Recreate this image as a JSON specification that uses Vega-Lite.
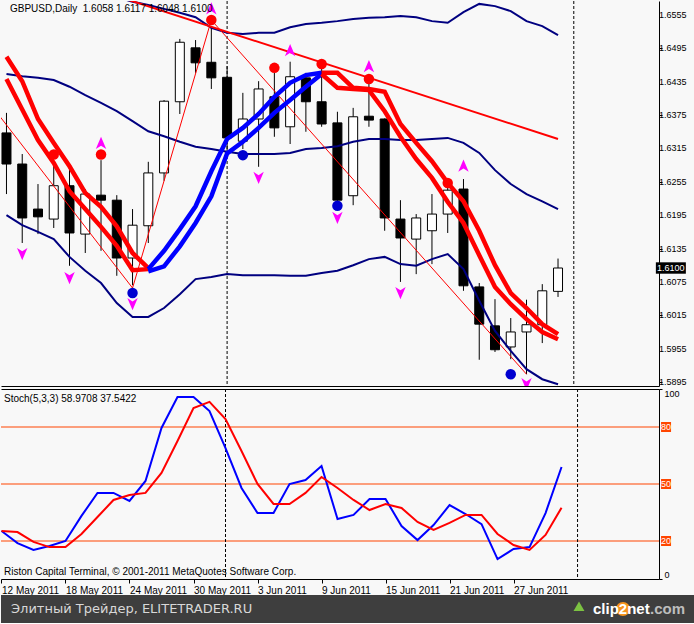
{
  "$schema": "https://vega.github.io/schema/vega-lite/v6.json",
  "padding": 0,
  "background": "#f8f8f8",
  "config": {
    "view": {"stroke": null},
    "font": "Liberation Sans",
    "axis": {"grid": false, "domainColor": "black", "tickColor": "black", "labelColor": "black", "labelFont": "Liberation Sans", "labelFontSize": 10, "title": null, "labelOverlap": false, "labelBound": false, "labelFlush": false},
    "axisY": {"labelOverlap": false},
    "axisQuantitative": {"labelOverlap": false}
  },
  "datasets": {
    "candles": [
      {"i": 0, "date": "12 May 2011", "o": 1.6343, "h": 1.6379, "l": 1.6233, "c": 1.6287},
      {"i": 1, "date": "13 May 2011", "o": 1.6287, "h": 1.6305, "l": 1.6145, "c": 1.6190},
      {"i": 2, "date": "16 May 2011", "o": 1.6206, "h": 1.6251, "l": 1.6161, "c": 1.6192},
      {"i": 3, "date": "17 May 2011", "o": 1.6188, "h": 1.6292, "l": 1.6172, "c": 1.6248},
      {"i": 4, "date": "18 May 2011", "o": 1.6248, "h": 1.6285, "l": 1.6104, "c": 1.6163},
      {"i": 5, "date": "19 May 2011", "o": 1.6161, "h": 1.6242, "l": 1.6127, "c": 1.6233},
      {"i": 6, "date": "20 May 2011", "o": 1.6231, "h": 1.6294, "l": 1.6131, "c": 1.6222},
      {"i": 7, "date": "23 May 2011", "o": 1.6222, "h": 1.6231, "l": 1.6086, "c": 1.6118},
      {"i": 8, "date": "24 May 2011", "o": 1.6118, "h": 1.6206, "l": 1.6069, "c": 1.6177},
      {"i": 9, "date": "25 May 2011", "o": 1.6176, "h": 1.6291, "l": 1.6145, "c": 1.6271},
      {"i": 10, "date": "26 May 2011", "o": 1.6271, "h": 1.6402, "l": 1.6257, "c": 1.6400},
      {"i": 11, "date": "27 May 2011", "o": 1.6399, "h": 1.6512, "l": 1.6377, "c": 1.6506},
      {"i": 12, "date": "30 May 2011", "o": 1.6496, "h": 1.6510, "l": 1.6451, "c": 1.6469},
      {"i": 13, "date": "31 May 2011", "o": 1.6470, "h": 1.6535, "l": 1.6422, "c": 1.6442},
      {"i": 14, "date": "1 Jun 2011", "o": 1.6443, "h": 1.6463, "l": 1.6310, "c": 1.6334},
      {"i": 15, "date": "2 Jun 2011", "o": 1.6328, "h": 1.6415, "l": 1.6314, "c": 1.6368},
      {"i": 16, "date": "3 Jun 2011", "o": 1.6368, "h": 1.6436, "l": 1.6282, "c": 1.6422},
      {"i": 17, "date": "6 Jun 2011", "o": 1.6408, "h": 1.6451, "l": 1.6336, "c": 1.6352},
      {"i": 18, "date": "7 Jun 2011", "o": 1.6354, "h": 1.6471, "l": 1.6323, "c": 1.6444},
      {"i": 19, "date": "8 Jun 2011", "o": 1.6442, "h": 1.6451, "l": 1.6345, "c": 1.6399},
      {"i": 20, "date": "9 Jun 2011", "o": 1.6399, "h": 1.6460, "l": 1.6354, "c": 1.6359},
      {"i": 21, "date": "10 Jun 2011", "o": 1.6361, "h": 1.6381, "l": 1.6220, "c": 1.6222},
      {"i": 22, "date": "13 Jun 2011", "o": 1.6230, "h": 1.6388, "l": 1.6213, "c": 1.6372},
      {"i": 23, "date": "14 Jun 2011", "o": 1.6373, "h": 1.6431, "l": 1.6354, "c": 1.6366},
      {"i": 24, "date": "15 Jun 2011", "o": 1.6368, "h": 1.6369, "l": 1.6167, "c": 1.6190},
      {"i": 25, "date": "16 Jun 2011", "o": 1.6188, "h": 1.6222, "l": 1.6075, "c": 1.6154},
      {"i": 26, "date": "17 Jun 2011", "o": 1.6152, "h": 1.6197, "l": 1.6089, "c": 1.6190},
      {"i": 27, "date": "20 Jun 2011", "o": 1.6167, "h": 1.6233, "l": 1.6107, "c": 1.6197},
      {"i": 28, "date": "21 Jun 2011", "o": 1.6197, "h": 1.6246, "l": 1.6163, "c": 1.6240},
      {"i": 29, "date": "22 Jun 2011", "o": 1.6242, "h": 1.6260, "l": 1.6059, "c": 1.6068},
      {"i": 30, "date": "23 Jun 2011", "o": 1.6066, "h": 1.6073, "l": 1.5935, "c": 1.5999},
      {"i": 31, "date": "24 Jun 2011", "o": 1.5996, "h": 1.6044, "l": 1.5949, "c": 1.5953},
      {"i": 32, "date": "27 Jun 2011", "o": 1.5958, "h": 1.6010, "l": 1.5936, "c": 1.5985},
      {"i": 33, "date": "28 Jun 2011", "o": 1.5985, "h": 1.6043, "l": 1.5909, "c": 1.5998},
      {"i": 34, "date": "29 Jun 2011", "o": 1.5998, "h": 1.6071, "l": 1.5965, "c": 1.6059},
      {"i": 35, "date": "30 Jun 2011", "o": 1.6058, "h": 1.6117, "l": 1.6048, "c": 1.6100}
    ],
    "bands": [
      {"i": 6, "band": "upper", "v": 1.6596}, {"i": 7, "band": "upper", "v": 1.6587}, {"i": 8, "band": "upper", "v": 1.6579},
      {"i": 9, "band": "upper", "v": 1.6573}, {"i": 10, "band": "upper", "v": 1.6566}, {"i": 11, "band": "upper", "v": 1.6559},
      {"i": 12, "band": "upper", "v": 1.6551}, {"i": 13, "band": "upper", "v": 1.6532}, {"i": 14, "band": "upper", "v": 1.6523},
      {"i": 15, "band": "upper", "v": 1.6521}, {"i": 16, "band": "upper", "v": 1.6523}, {"i": 17, "band": "upper", "v": 1.6523},
      {"i": 18, "band": "upper", "v": 1.6533}, {"i": 19, "band": "upper", "v": 1.6539}, {"i": 20, "band": "upper", "v": 1.6541},
      {"i": 21, "band": "upper", "v": 1.6544}, {"i": 22, "band": "upper", "v": 1.6548}, {"i": 23, "band": "upper", "v": 1.6550},
      {"i": 24, "band": "upper", "v": 1.6551}, {"i": 25, "band": "upper", "v": 1.6553}, {"i": 26, "band": "upper", "v": 1.6551},
      {"i": 27, "band": "upper", "v": 1.6544}, {"i": 28, "band": "upper", "v": 1.6541}, {"i": 29, "band": "upper", "v": 1.6560},
      {"i": 30, "band": "upper", "v": 1.6575}, {"i": 31, "band": "upper", "v": 1.6571}, {"i": 32, "band": "upper", "v": 1.6562},
      {"i": 33, "band": "upper", "v": 1.6544}, {"i": 34, "band": "upper", "v": 1.6535}, {"i": 35, "band": "upper", "v": 1.6519},
      {"i": 0, "band": "middle", "v": 1.6449}, {"i": 1, "band": "middle", "v": 1.6445}, {"i": 2, "band": "middle", "v": 1.6442},
      {"i": 3, "band": "middle", "v": 1.6438}, {"i": 4, "band": "middle", "v": 1.6426}, {"i": 5, "band": "middle", "v": 1.6411},
      {"i": 6, "band": "middle", "v": 1.6397}, {"i": 7, "band": "middle", "v": 1.6382}, {"i": 8, "band": "middle", "v": 1.6364},
      {"i": 9, "band": "middle", "v": 1.6346}, {"i": 10, "band": "middle", "v": 1.6337}, {"i": 11, "band": "middle", "v": 1.6327},
      {"i": 12, "band": "middle", "v": 1.6318}, {"i": 13, "band": "middle", "v": 1.6314}, {"i": 14, "band": "middle", "v": 1.6309},
      {"i": 15, "band": "middle", "v": 1.6305}, {"i": 16, "band": "middle", "v": 1.6305}, {"i": 17, "band": "middle", "v": 1.6305},
      {"i": 18, "band": "middle", "v": 1.6307}, {"i": 19, "band": "middle", "v": 1.6314}, {"i": 20, "band": "middle", "v": 1.6316},
      {"i": 21, "band": "middle", "v": 1.6319}, {"i": 22, "band": "middle", "v": 1.6327}, {"i": 23, "band": "middle", "v": 1.6332},
      {"i": 24, "band": "middle", "v": 1.6332}, {"i": 25, "band": "middle", "v": 1.6330}, {"i": 26, "band": "middle", "v": 1.6330},
      {"i": 27, "band": "middle", "v": 1.6332}, {"i": 28, "band": "middle", "v": 1.6334}, {"i": 29, "band": "middle", "v": 1.6325},
      {"i": 30, "band": "middle", "v": 1.6307}, {"i": 31, "band": "middle", "v": 1.6276}, {"i": 32, "band": "middle", "v": 1.6251},
      {"i": 33, "band": "middle", "v": 1.6233}, {"i": 34, "band": "middle", "v": 1.6220}, {"i": 35, "band": "middle", "v": 1.6206},
      {"i": 0, "band": "lower", "v": 1.6195}, {"i": 1, "band": "lower", "v": 1.6177}, {"i": 2, "band": "lower", "v": 1.6165},
      {"i": 3, "band": "lower", "v": 1.6152}, {"i": 4, "band": "lower", "v": 1.6120}, {"i": 5, "band": "lower", "v": 1.6095},
      {"i": 6, "band": "lower", "v": 1.6073}, {"i": 7, "band": "lower", "v": 1.6037}, {"i": 8, "band": "lower", "v": 1.6012},
      {"i": 9, "band": "lower", "v": 1.6012}, {"i": 10, "band": "lower", "v": 1.6028}, {"i": 11, "band": "lower", "v": 1.6053},
      {"i": 12, "band": "lower", "v": 1.6080}, {"i": 13, "band": "lower", "v": 1.6084}, {"i": 14, "band": "lower", "v": 1.6089},
      {"i": 15, "band": "lower", "v": 1.6087}, {"i": 16, "band": "lower", "v": 1.6087}, {"i": 17, "band": "lower", "v": 1.6087},
      {"i": 18, "band": "lower", "v": 1.6086}, {"i": 19, "band": "lower", "v": 1.6086}, {"i": 20, "band": "lower", "v": 1.6091},
      {"i": 21, "band": "lower", "v": 1.6095}, {"i": 22, "band": "lower", "v": 1.6105}, {"i": 23, "band": "lower", "v": 1.6116},
      {"i": 24, "band": "lower", "v": 1.6120}, {"i": 25, "band": "lower", "v": 1.6107}, {"i": 26, "band": "lower", "v": 1.6104},
      {"i": 27, "band": "lower", "v": 1.6116}, {"i": 28, "band": "lower", "v": 1.6125}, {"i": 29, "band": "lower", "v": 1.6098},
      {"i": 30, "band": "lower", "v": 1.6041}, {"i": 31, "band": "lower", "v": 1.5987}, {"i": 32, "band": "lower", "v": 1.5951},
      {"i": 33, "band": "lower", "v": 1.5918}, {"i": 34, "band": "lower", "v": 1.5900}, {"i": 35, "band": "lower", "v": 1.5891}
    ],
    "env": [
      {"i": 0, "s": "ru1", "v": 1.6480}, {"i": 1, "s": "ru1", "v": 1.6436}, {"i": 2, "s": "ru1", "v": 1.6368}, {"i": 3, "s": "ru1", "v": 1.6325},
      {"i": 4, "s": "ru1", "v": 1.6283}, {"i": 5, "s": "ru1", "v": 1.6235}, {"i": 6, "s": "ru1", "v": 1.6210}, {"i": 7, "s": "ru1", "v": 1.6175},
      {"i": 8, "s": "ru1", "v": 1.6127}, {"i": 9, "s": "ru1", "v": 1.6100},
      {"i": 0, "s": "rl1", "v": 1.6440}, {"i": 1, "s": "rl1", "v": 1.6385}, {"i": 2, "s": "rl1", "v": 1.6330}, {"i": 3, "s": "rl1", "v": 1.6289},
      {"i": 4, "s": "rl1", "v": 1.6238}, {"i": 5, "s": "rl1", "v": 1.6206}, {"i": 6, "s": "rl1", "v": 1.6174}, {"i": 7, "s": "rl1", "v": 1.6140},
      {"i": 8, "s": "rl1", "v": 1.6096}, {"i": 9, "s": "rl1", "v": 1.6098},
      {"i": 9, "s": "bu", "v": 1.6098}, {"i": 10, "s": "bu", "v": 1.6131}, {"i": 11, "s": "bu", "v": 1.6170}, {"i": 12, "s": "bu", "v": 1.6211},
      {"i": 13, "s": "bu", "v": 1.6274}, {"i": 14, "s": "bu", "v": 1.6332}, {"i": 15, "s": "bu", "v": 1.6352}, {"i": 16, "s": "bu", "v": 1.6377},
      {"i": 17, "s": "bu", "v": 1.6408}, {"i": 18, "s": "bu", "v": 1.6433}, {"i": 19, "s": "bu", "v": 1.6447}, {"i": 20, "s": "bu", "v": 1.6451},
      {"i": 9, "s": "bl", "v": 1.6094}, {"i": 10, "s": "bl", "v": 1.6103}, {"i": 11, "s": "bl", "v": 1.6139}, {"i": 12, "s": "bl", "v": 1.6181},
      {"i": 13, "s": "bl", "v": 1.6229}, {"i": 14, "s": "bl", "v": 1.6306}, {"i": 15, "s": "bl", "v": 1.6327}, {"i": 16, "s": "bl", "v": 1.6352},
      {"i": 17, "s": "bl", "v": 1.6379}, {"i": 18, "s": "bl", "v": 1.6402}, {"i": 19, "s": "bl", "v": 1.6426}, {"i": 20, "s": "bl", "v": 1.6449},
      {"i": 20, "s": "ru2", "v": 1.6451}, {"i": 21, "s": "ru2", "v": 1.6451}, {"i": 22, "s": "ru2", "v": 1.6424}, {"i": 23, "s": "ru2", "v": 1.6422},
      {"i": 24, "s": "ru2", "v": 1.6417}, {"i": 25, "s": "ru2", "v": 1.6359}, {"i": 26, "s": "ru2", "v": 1.6325}, {"i": 27, "s": "ru2", "v": 1.6292},
      {"i": 28, "s": "ru2", "v": 1.6253}, {"i": 29, "s": "ru2", "v": 1.6220}, {"i": 30, "s": "ru2", "v": 1.6167}, {"i": 31, "s": "ru2", "v": 1.6105},
      {"i": 32, "s": "ru2", "v": 1.6055}, {"i": 33, "s": "ru2", "v": 1.6028}, {"i": 34, "s": "ru2", "v": 1.5999}, {"i": 35, "s": "ru2", "v": 1.5981},
      {"i": 20, "s": "rl2", "v": 1.6449}, {"i": 21, "s": "rl2", "v": 1.6424}, {"i": 22, "s": "rl2", "v": 1.6422}, {"i": 23, "s": "rl2", "v": 1.6420},
      {"i": 24, "s": "rl2", "v": 1.6382}, {"i": 25, "s": "rl2", "v": 1.6336}, {"i": 26, "s": "rl2", "v": 1.6296}, {"i": 27, "s": "rl2", "v": 1.6262},
      {"i": 28, "s": "rl2", "v": 1.6219}, {"i": 29, "s": "rl2", "v": 1.6181}, {"i": 30, "s": "rl2", "v": 1.6123}, {"i": 31, "s": "rl2", "v": 1.6066},
      {"i": 32, "s": "rl2", "v": 1.6035}, {"i": 33, "s": "rl2", "v": 1.6008}, {"i": 34, "s": "rl2", "v": 1.5985}, {"i": 35, "s": "rl2", "v": 1.5972}
    ],
    "tline": [{"i": 7, "v": 1.6589}, {"i": 35, "v": 1.6332}],
    "zigzag": [{"i": -1, "v": 1.6394}, {"i": 8, "v": 1.6064}, {"i": 13, "v": 1.6546}, {"i": 33, "v": 1.5909}],
    "marks": [
      {"i": 3, "kind": "hi", "v": 1.6304}, {"i": 6, "kind": "hi", "v": 1.6304}, {"i": 13, "kind": "hi", "v": 1.6546},
      {"i": 17, "kind": "hi", "v": 1.6460}, {"i": 20, "kind": "hi", "v": 1.6467}, {"i": 23, "kind": "hi", "v": 1.6440},
      {"i": 28, "kind": "hi", "v": 1.6253},
      {"i": 8, "kind": "lo", "v": 1.6055}, {"i": 15, "kind": "lo", "v": 1.6303}, {"i": 21, "kind": "lo", "v": 1.6212},
      {"i": 32, "kind": "lo", "v": 1.5909},
      {"i": 13, "kind": "up", "v": 1.6567}, {"i": 6, "kind": "up", "v": 1.6325}, {"i": 18, "kind": "up", "v": 1.6492},
      {"i": 23, "kind": "up", "v": 1.6463}, {"i": 29, "kind": "up", "v": 1.6284},
      {"i": 1, "kind": "dn", "v": 1.6125}, {"i": 4, "kind": "dn", "v": 1.6082}, {"i": 8, "kind": "dn", "v": 1.6035},
      {"i": 16, "kind": "dn", "v": 1.6262}, {"i": 21, "kind": "dn", "v": 1.6190}, {"i": 25, "kind": "dn", "v": 1.6055},
      {"i": 33, "kind": "dn", "v": 1.5891}
    ],
    "seps": [{"i": 14, "date": "1 Jun 2011"}, {"i": 36, "date": "1 Jul 2011"}],
    "stoch": [
      {"i": 0, "k": 25.3, "d": 25.3}, {"i": 1, "k": 18.9, "d": 24.7}, {"i": 2, "k": 15.3, "d": 19.5}, {"i": 3, "k": 17.4, "d": 16.8},
      {"i": 4, "k": 20.0, "d": 16.8}, {"i": 5, "k": 33.2, "d": 23.7}, {"i": 6, "k": 45.3, "d": 32.6}, {"i": 7, "k": 45.3, "d": 41.6},
      {"i": 8, "k": 41.1, "d": 44.2}, {"i": 9, "k": 51.6, "d": 45.3}, {"i": 10, "k": 79.5, "d": 55.8}, {"i": 11, "k": 95.8, "d": 72.6},
      {"i": 12, "k": 95.8, "d": 90.0}, {"i": 13, "k": 88.4, "d": 93.2}, {"i": 14, "k": 68.9, "d": 84.2}, {"i": 15, "k": 47.9, "d": 67.4},
      {"i": 16, "k": 34.7, "d": 50.0}, {"i": 17, "k": 34.7, "d": 39.5}, {"i": 18, "k": 50.0, "d": 39.5}, {"i": 19, "k": 52.1, "d": 45.3},
      {"i": 20, "k": 59.5, "d": 53.7}, {"i": 21, "k": 31.6, "d": 47.9}, {"i": 22, "k": 33.7, "d": 41.6}, {"i": 23, "k": 42.1, "d": 36.3},
      {"i": 24, "k": 42.1, "d": 39.5}, {"i": 25, "k": 27.9, "d": 37.4}, {"i": 26, "k": 20.5, "d": 30.0}, {"i": 27, "k": 28.4, "d": 25.8},
      {"i": 28, "k": 38.9, "d": 29.5}, {"i": 29, "k": 34.2, "d": 33.7}, {"i": 30, "k": 28.9, "d": 33.7}, {"i": 31, "k": 10.5, "d": 23.7},
      {"i": 32, "k": 15.8, "d": 17.9}, {"i": 33, "k": 16.8, "d": 15.3}, {"i": 34, "k": 34.7, "d": 23.2}, {"i": 35, "k": 58.97, "d": 37.54}
    ],
    "levels": [{"level": 80}, {"level": 50}, {"level": 20}],
    "pricelabels": [
      {"p": 1.5895}, {"p": 1.5955}, {"p": 1.6015}, {"p": 1.6075}, {"p": 1.6135}, {"p": 1.6195},
      {"p": 1.6255}, {"p": 1.6315}, {"p": 1.6375}, {"p": 1.6435}, {"p": 1.6495}, {"p": 1.6555}
    ]
  },
  "resolve": {"scale": {"x": "independent", "y": "independent"}},
  "spacing": 0,
  "vconcat": [
    {
      "resolve": {"scale": {"x": "independent", "y": "independent"}},
      "spacing": 1,
      "vconcat": [
        {
          "width": 658,
          "height": 385,
          "layer": [
            {
              "mark": {"type": "rule", "color": "#c0c0c0", "strokeWidth": 1},
              "encoding": {
                "y": {"datum": 1.61, "type": "quantitative",
                      "scale": {"domain": [1.58878, 1.65802], "nice": false, "zero": false},
                      "axis": {"orient": "right", "values": [1.5895, 1.5955, 1.6015, 1.6075, 1.6135, 1.6195, 1.6255, 1.6315, 1.6375, 1.6435, 1.6495, 1.6555],
                               "labels": false, "tickSize": 3, "title": null}}
              }
            },
            {
              "data": {"name": "pricelabels"},
              "mark": {"type": "text", "align": "left", "baseline": "middle", "fontSize": 9, "color": "black", "dx": 5},
              "encoding": {
                "text": {"field": "p", "format": ".4f"},
                "x": {"datum": 41.09, "type": "quantitative", "scale": {"domain": [-0.03, 41.09], "nice": false, "zero": false}},
                "y": {"field": "p", "type": "quantitative", "scale": {"domain": [1.58878, 1.65802], "nice": false, "zero": false}}
              }
            },
            {
              "data": {"name": "seps"},
              "mark": {"type": "rule", "color": "black", "strokeDash": [3, 2], "strokeWidth": 1},
              "encoding": {
                "x": {"field": "i", "type": "quantitative", "scale": {"domain": [-0.03, 41.09], "nice": false, "zero": false},
                      "axis": {"orient": "bottom", "labels": false, "ticks": false, "domain": true, "title": null}}
              }
            },
            {
              "data": {"name": "candles"},
              "mark": {"type": "rule", "color": "black", "strokeWidth": 1},
              "encoding": {
                "x": {"field": "i", "type": "quantitative", "scale": {"domain": [-0.03, 41.09], "nice": false, "zero": false}},
                "y": {"field": "l", "type": "quantitative", "scale": {"domain": [1.58878, 1.65802], "nice": false, "zero": false}},
                "y2": {"field": "h"}
              }
            },
            {
              "data": {"name": "candles"},
              "mark": {"type": "bar", "width": 9, "stroke": "black", "strokeWidth": 1},
              "encoding": {
                "x": {"field": "i", "type": "quantitative", "scale": {"domain": [-0.03, 41.09], "nice": false, "zero": false}},
                "y": {"field": "o", "type": "quantitative", "scale": {"domain": [1.58878, 1.65802], "nice": false, "zero": false}},
                "y2": {"field": "c"},
                "color": {"condition": {"test": "datum.c >= datum.o", "value": "white"}, "value": "black"}
              }
            },
            {
              "data": {"name": "bands"},
              "mark": {"type": "line", "color": "#000080", "strokeWidth": 2, "clip": true},
              "encoding": {
                "x": {"field": "i", "type": "quantitative", "scale": {"domain": [-0.03, 41.09], "nice": false, "zero": false}},
                "y": {"field": "v", "type": "quantitative", "scale": {"domain": [1.58878, 1.65802], "nice": false, "zero": false}},
                "detail": {"field": "band"}
              }
            },
            {
              "data": {"name": "tline"},
              "mark": {"type": "line", "color": "#ff0000", "strokeWidth": 2, "clip": true},
              "encoding": {
                "x": {"field": "i", "type": "quantitative", "scale": {"domain": [-0.03, 41.09], "nice": false, "zero": false}},
                "y": {"field": "v", "type": "quantitative", "scale": {"domain": [1.58878, 1.65802], "nice": false, "zero": false}}
              }
            },
            {
              "data": {"name": "zigzag"},
              "mark": {"type": "line", "color": "#ff0000", "strokeWidth": 1, "clip": true},
              "encoding": {
                "x": {"field": "i", "type": "quantitative", "scale": {"domain": [-0.03, 41.09], "nice": false, "zero": false}},
                "y": {"field": "v", "type": "quantitative", "scale": {"domain": [1.58878, 1.65802], "nice": false, "zero": false}}
              }
            },
            {
              "data": {"name": "env"},
              "mark": {"type": "line", "strokeWidth": 4.5, "clip": true},
              "encoding": {
                "x": {"field": "i", "type": "quantitative", "scale": {"domain": [-0.03, 41.09], "nice": false, "zero": false}},
                "y": {"field": "v", "type": "quantitative", "scale": {"domain": [1.58878, 1.65802], "nice": false, "zero": false}},
                "color": {"field": "s", "type": "nominal", "legend": null,
                          "scale": {"domain": ["ru1", "rl1", "bu", "bl", "ru2", "rl2"], "range": ["#ff0000", "#ff0000", "#0000ff", "#0000ff", "#ff0000", "#ff0000"]}}
              }
            },
            {
              "data": {"name": "marks"},
              "transform": [{"filter": "datum.kind == 'hi'"}],
              "mark": {"type": "point", "filled": true, "opacity": 1, "size": 110, "color": "#ff0000", "clip": true},
              "encoding": {
                "x": {"field": "i", "type": "quantitative", "scale": {"domain": [-0.03, 41.09], "nice": false, "zero": false}},
                "y": {"field": "v", "type": "quantitative", "scale": {"domain": [1.58878, 1.65802], "nice": false, "zero": false}}
              }
            },
            {
              "data": {"name": "marks"},
              "transform": [{"filter": "datum.kind == 'lo'"}],
              "mark": {"type": "point", "filled": true, "opacity": 1, "size": 110, "color": "#0000d0", "clip": true},
              "encoding": {
                "x": {"field": "i", "type": "quantitative", "scale": {"domain": [-0.03, 41.09], "nice": false, "zero": false}},
                "y": {"field": "v", "type": "quantitative", "scale": {"domain": [1.58878, 1.65802], "nice": false, "zero": false}}
              }
            },
            {
              "data": {"name": "marks"},
              "transform": [{"filter": "datum.kind == 'up'"}],
              "mark": {"type": "point", "filled": true, "opacity": 1, "size": 150, "color": "#ff00ff", "shape": "M0,-1L0.85,1L0,0.45L-0.85,1Z", "clip": true},
              "encoding": {
                "x": {"field": "i", "type": "quantitative", "scale": {"domain": [-0.03, 41.09], "nice": false, "zero": false}},
                "y": {"field": "v", "type": "quantitative", "scale": {"domain": [1.58878, 1.65802], "nice": false, "zero": false}}
              }
            },
            {
              "data": {"name": "marks"},
              "transform": [{"filter": "datum.kind == 'dn'"}],
              "mark": {"type": "point", "filled": true, "opacity": 1, "size": 150, "color": "#ff00ff", "shape": "M0,1L0.85,-1L0,-0.45L-0.85,-1Z", "clip": true},
              "encoding": {
                "x": {"field": "i", "type": "quantitative", "scale": {"domain": [-0.03, 41.09], "nice": false, "zero": false}},
                "y": {"field": "v", "type": "quantitative", "scale": {"domain": [1.58878, 1.65802], "nice": false, "zero": false}}
              }
            },
            {
              "data": {"values": [{"label": "GBPUSD,Daily\u00a0\u00a01.6058 1.6117 1.6048 1.6100"}]},
              "mark": {"type": "text", "align": "left", "baseline": "middle", "fontSize": 10, "color": "black"},
              "encoding": {
                "text": {"field": "label"},
                "x": {"datum": 0.22, "type": "quantitative", "scale": {"domain": [-0.03, 41.09], "nice": false, "zero": false}},
                "y": {"datum": 1.6566, "type": "quantitative", "scale": {"domain": [1.58878, 1.65802], "nice": false, "zero": false}}
              }
            },
            {
              "data": {"values": [{"label": "1.6100"}]},
              "mark": {"type": "point", "filled": true, "opacity": 1, "size": 900, "color": "black", "shape": "M-1,-0.38L1,-0.38L1,0.38L-1,0.38Z"},
              "encoding": {
                "x": {"datum": 42.16, "type": "quantitative", "scale": {"domain": [-0.03, 41.09], "nice": false, "zero": false}},
                "y": {"datum": 1.61, "type": "quantitative", "scale": {"domain": [1.58878, 1.65802], "nice": false, "zero": false}}
              }
            },
            {
              "data": {"values": [{"label": "1.6100"}]},
              "mark": {"type": "text", "align": "center", "baseline": "middle", "fontSize": 9, "color": "white"},
              "encoding": {
                "text": {"field": "label"},
                "x": {"datum": 42.16, "type": "quantitative", "scale": {"domain": [-0.03, 41.09], "nice": false, "zero": false}},
                "y": {"datum": 1.61, "type": "quantitative", "scale": {"domain": [1.58878, 1.65802], "nice": false, "zero": false}}
              }
            }
          ]
        },
        {
          "width": 658,
          "height": 190,
          "resolve": {"axis": {"x": "independent"}},
          "layer": [
            {
              "data": {"name": "levels"},
              "mark": {"type": "rule", "color": "#ff4500", "strokeWidth": 1},
              "encoding": {
                "y": {"field": "level", "type": "quantitative", "scale": {"domain": [0, 100], "nice": false, "zero": false},
                      "axis": {"orient": "right", "values": [0, 100], "tickSize": 3, "labelPadding": 2, "title": null, "labelFontSize": 9, "labelOverlap": false,
                               "labelBaseline": {"condition": {"test": "datum.value == 100", "value": "top"}, "value": "bottom"}}}
              }
            },
            {
              "data": {"name": "seps"},
              "mark": {"type": "rule", "color": "black", "strokeDash": [3, 2], "strokeWidth": 1},
              "encoding": {
                "x": {"field": "i", "type": "quantitative", "scale": {"domain": [-0.03, 41.09], "nice": false, "zero": false},
                      "axis": {"orient": "top", "labels": false, "ticks": false, "domain": true, "title": null}}
              }
            },
            {
              "data": {"name": "stoch"},
              "mark": {"type": "line", "color": "#0000ff", "strokeWidth": 2, "clip": true},
              "encoding": {
                "x": {"field": "i", "type": "quantitative", "scale": {"domain": [-0.03, 41.09], "nice": false, "zero": false},
                      "axis": {"orient": "bottom", "values": [0, 4, 8, 12, 16, 20, 24, 28, 32],
                               "labelExpr": "['12 May 2011','18 May 2011','24 May 2011','30 May 2011','3 Jun 2011','9 Jun 2011','15 Jun 2011','21 Jun 2011','27 Jun 2011'][round(datum.value/4)]",
                               "labelAlign": "left", "labelBaseline": "top", "labelPadding": 2, "tickSize": 4, "labelFontSize": 10, "labelOverlap": false, "labelBound": false, "labelFlush": false, "title": null}},
                "y": {"field": "k", "type": "quantitative", "scale": {"domain": [0, 100], "nice": false, "zero": false}}
              }
            },
            {
              "data": {"name": "stoch"},
              "mark": {"type": "line", "color": "#ff0000", "strokeWidth": 2, "clip": true},
              "encoding": {
                "x": {"field": "i", "type": "quantitative", "scale": {"domain": [-0.03, 41.09], "nice": false, "zero": false}, "axis": null},
                "y": {"field": "d", "type": "quantitative", "scale": {"domain": [0, 100], "nice": false, "zero": false}}
              }
            },
            {
              "data": {"name": "levels"},
              "mark": {"type": "point", "filled": true, "opacity": 1, "size": 100, "shape": "square", "color": "#ff4500"},
              "encoding": {
                "x": {"datum": 41.53, "type": "quantitative", "scale": {"domain": [-0.03, 41.09], "nice": false, "zero": false}, "axis": null},
                "y": {"field": "level", "type": "quantitative", "scale": {"domain": [0, 100], "nice": false, "zero": false}}
              }
            },
            {
              "data": {"name": "levels"},
              "mark": {"type": "text", "align": "center", "baseline": "middle", "fontSize": 9, "color": "white"},
              "encoding": {
                "text": {"field": "level"},
                "x": {"datum": 41.53, "type": "quantitative", "scale": {"domain": [-0.03, 41.09], "nice": false, "zero": false}, "axis": null},
                "y": {"field": "level", "type": "quantitative", "scale": {"domain": [0, 100], "nice": false, "zero": false}}
              }
            },
            {
              "data": {"values": [{"label": "Stoch(5,3,3) 58.9708 37.5422", "v": 94.7}, {"label": "Riston Capital Terminal, © 2001-2011 MetaQuotes Software Corp.", "v": 3.7}]},
              "mark": {"type": "text", "align": "left", "baseline": "middle", "fontSize": 10, "color": "black"},
              "encoding": {
                "text": {"field": "label"},
                "x": {"datum": 0.16, "type": "quantitative", "scale": {"domain": [-0.03, 41.09], "nice": false, "zero": false}, "axis": null},
                "y": {"field": "v", "type": "quantitative", "scale": {"domain": [0, 100], "nice": false, "zero": false}}
              }
            }
          ]
        }
      ]
    },
    {
      "width": 694,
      "height": 28,
      "view": {"fill": "#3e3e3e", "stroke": null},
      "data": {"values": [
        {"t": "Элитный Трейдер, ELITETRADER.RU", "part": "site"},
        {"t": "clip2net", "part": "logo"},
        {"t": ".com", "part": "com"}
      ]},
      "layer": [
        {
          "transform": [{"filter": "datum.part == 'site'"}],
          "mark": {"type": "text", "align": "left", "baseline": "middle", "fontSize": 13, "color": "#d8d8d8", "font": "DejaVu Sans"},
          "encoding": {
            "text": {"field": "t"},
            "x": {"datum": 10, "type": "quantitative", "scale": {"domain": [0, 694]}, "axis": null},
            "y": {"datum": 0.5, "type": "quantitative", "scale": {"domain": [0, 1]}, "axis": null}
          }
        },
        {
          "transform": [{"filter": "datum.part == 'logo'"}],
          "mark": {"type": "point", "filled": true, "opacity": 1, "shape": "circle", "size": 200, "color": "#f7941d"},
          "encoding": {
            "x": {"datum": 622, "type": "quantitative", "scale": {"domain": [0, 694]}, "axis": null},
            "y": {"datum": 0.5, "type": "quantitative", "scale": {"domain": [0, 1]}, "axis": null}
          }
        },
        {
          "transform": [{"filter": "datum.part == 'logo'"}],
          "mark": {"type": "text", "align": "left", "baseline": "middle", "fontSize": 15, "fontWeight": "bold", "color": "#ffffff"},
          "encoding": {
            "text": {"field": "t"},
            "x": {"datum": 592, "type": "quantitative", "scale": {"domain": [0, 694]}, "axis": null},
            "y": {"datum": 0.5, "type": "quantitative", "scale": {"domain": [0, 1]}, "axis": null}
          }
        },
        {
          "transform": [{"filter": "datum.part == 'com'"}],
          "mark": {"type": "text", "align": "left", "baseline": "middle", "fontSize": 15, "fontWeight": "bold", "color": "#bdbdbd"},
          "encoding": {
            "text": {"field": "t"},
            "x": {"datum": 649, "type": "quantitative", "scale": {"domain": [0, 694]}, "axis": null},
            "y": {"datum": 0.5, "type": "quantitative", "scale": {"domain": [0, 1]}, "axis": null}
          }
        },
        {
          "transform": [{"filter": "datum.part == 'logo'"}],
          "mark": {"type": "point", "filled": true, "opacity": 1, "shape": "triangle-up", "size": 120, "color": "#7cc242"},
          "encoding": {
            "x": {"datum": 578, "type": "quantitative", "scale": {"domain": [0, 694]}, "axis": null},
            "y": {"datum": 0.6, "type": "quantitative", "scale": {"domain": [0, 1]}, "axis": null}
          }
        }
      ]
    }
  ]
}
